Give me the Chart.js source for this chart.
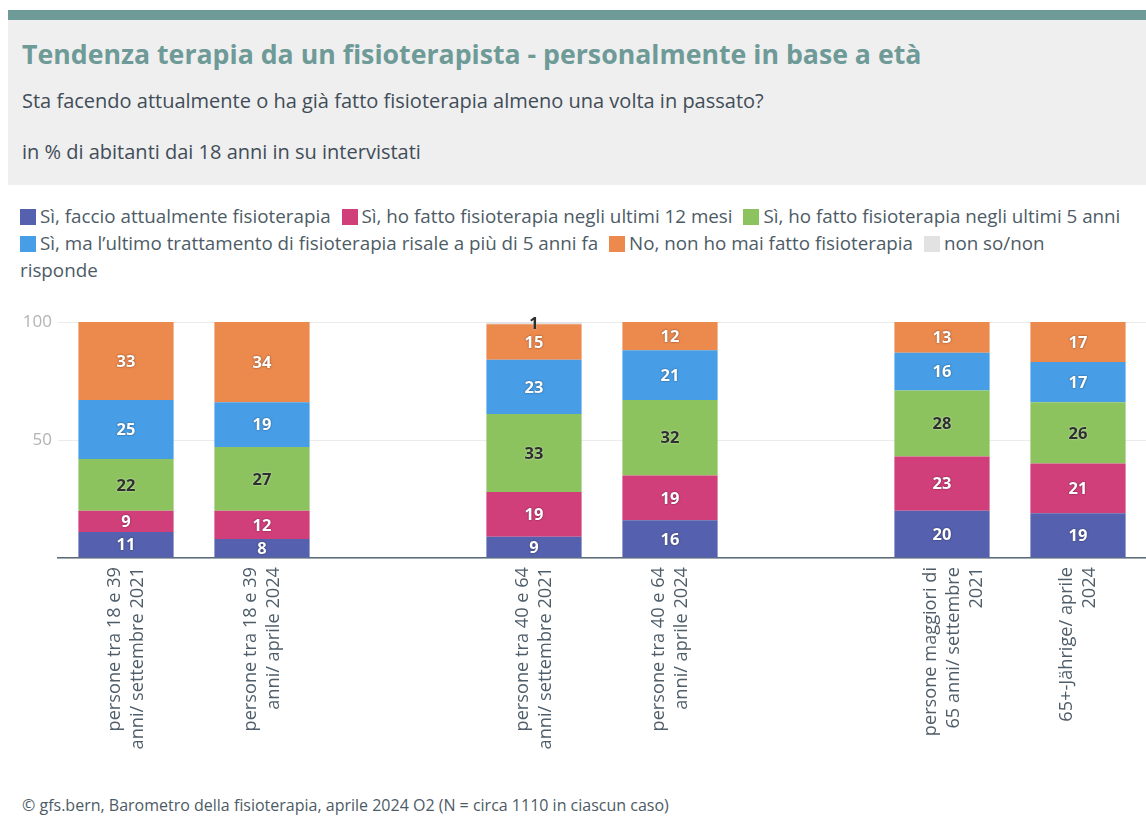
<!DOCTYPE html>
<html lang="it">
<head>
<meta charset="UTF-8">
<title>Tendenza terapia da un fisioterapista</title>
<script src="https://cdn.jsdelivr.net/npm/chart.js@4.4.1/dist/chart.umd.min.js"></script>
<style>
  body { margin: 0; background: #fff; font-family: "Open Sans", Roboto, sans-serif; width: 1146px; height: 829px; overflow: hidden; position: relative; }
  .header { position: absolute; left: 8px; top: 10px; width: 1138px; height: 175px; background: #efefef; border-top: 10px solid #6e9a97; box-sizing: border-box; }
  .header h1 { position: absolute; left: 14px; top: 19px; margin: 0; font-size: 26.7px; line-height: 30px; font-weight: 700; color: #6e9a97; white-space: nowrap; }
  .header p { position: absolute; left: 14px; margin: 0; font-size: 20px; line-height: 24px; color: #3f4d58; white-space: nowrap; }
  /* lo spazio tra le voci sparisce a fine riga */
  #legend { position: absolute; left: 20px; top: 203px; width: 1103px; font-size: 18.8px; line-height: 27px; color: #4d5b66; word-spacing: 6px; }
  #legend .item { white-space: nowrap; word-spacing: normal; }
  #legend .item:last-child { white-space: normal; }
  #legend .box { display: inline-block; width: 16px; height: 16px; margin-right: 4px; vertical-align: -2px; }
  .chart-wrap { position: absolute; left: 0; top: 300px; width: 1146px; height: 480px; }
  .foot { position: absolute; left: 22px; top: 796px; margin: 0; font-size: 16px; line-height: 18px; color: #4d5b66; white-space: nowrap; }
</style>
</head>
<body>
  <div class="header">
    <h1>Tendenza terapia da un fisioterapista - personalmente in base a età</h1>
    <p style="top:69px">Sta facendo attualmente o ha già fatto fisioterapia almeno una volta in passato?</p>
    <p style="top:120px">in % di abitanti dai 18 anni in su intervistati</p>
  </div>
  <div id="legend"></div>
  <div class="chart-wrap"><canvas id="chart" width="1146" height="480"></canvas></div>
  <p class="foot">© gfs.bern, Barometro della fisioterapia, aprile 2024 O2 (N = circa 1110 in ciascun caso)</p>

<script>
// categorie (le voci vuote fanno da spazio tra i gruppi di età)
const categories = [
  ["persone tra 18 e 39", "anni/ settembre 2021"],
  ["persone tra 18 e 39", "anni/ aprile 2024"],
  "",
  ["persone tra 40 e 64", "anni/ settembre 2021"],
  ["persone tra 40 e 64", "anni/ aprile 2024"],
  "",
  ["persone maggiori di", "65 anni/ settembre", "2021"],
  ["65+-Jährige/ aprile", "2024"]
];

const seriesNames = [
  "Sì, faccio attualmente fisioterapia",
  "Sì, ho fatto fisioterapia negli ultimi 12 mesi",
  "Sì, ho fatto fisioterapia negli ultimi 5 anni",
  "Sì, ma l’ultimo trattamento di fisioterapia risale a più di 5 anni fa",
  "No, non ho mai fatto fisioterapia",
  "non so/non risponde"
];

const attualmente  = [11, 8, null, 9, 16, null, 20, 19];
const ultimi12Mesi = [9, 12, null, 19, 19, null, 23, 21];
const ultimi5Anni  = [22, 27, null, 33, 32, null, 28, 26];
const oltre5Anni   = [25, 19, null, 23, 21, null, 16, 17];
const maiFatto     = [33, 34, null, 15, 12, null, 13, 17];
const nonSo        = [0, 0, null, 1, 0, null, 0, 0];

const yTicks = [0, 50, 100];

const colors = ['#5561ae', '#d13f7b', '#8cc35f', '#479ee6', '#ec894d', '#e2e2e2'];
const darkLabel = [false, false, true, false, false, true];

const allSeries = [attualmente, ultimi12Mesi, ultimi5Anni, oltre5Anni, maiFatto, nonSo];

// etichette dentro le barre
const barLabels = {
  id: 'barLabels',
  afterDatasetsDraw(chart) {
    const ctx = chart.ctx;
    ctx.save();
    ctx.font = 'bold 16.5px "Open Sans", sans-serif';
    ctx.textAlign = 'center';
    ctx.textBaseline = 'middle';
    chart.data.datasets.forEach((ds, di) => {
      const meta = chart.getDatasetMeta(di);
      meta.data.forEach((bar, i) => {
        const v = ds.data[i];
        if (!v) return;
        const y = (bar.y + bar.base) / 2;
        if (darkLabel[di]) {
          ctx.fillStyle = '#2f2f2f';
          ctx.shadowColor = 'rgba(255,255,255,0.7)';
        } else {
          ctx.fillStyle = '#ffffff';
          ctx.shadowColor = 'rgba(0,0,0,0.55)';
        }
        ctx.shadowBlur = 2;
        ctx.fillText(v, bar.x, y + 1);
      });
    });
    ctx.restore();
  }
};

const chart = new Chart(document.getElementById('chart'), {
  type: 'bar',
  data: {
    labels: categories,
    datasets: allSeries.map((d, i) => ({
      label: seriesNames[i],
      data: d,
      backgroundColor: colors[i],
      borderWidth: 0,
      barPercentage: 0.7,
      categoryPercentage: 1
    }))
  },
  options: {
    responsive: false,
    animation: false,
    layout: { padding: { top: 22, left: 0, right: 0, bottom: 0 } },
    plugins: {
      legend: { display: false },
      tooltip: { enabled: false }
    },
    scales: {
      x: {
        stacked: true,
        grid: { display: false, drawTicks: false },
        border: { color: '#5b6c7a', width: 1.5 },
        ticks: {
          autoSkip: false,
          minRotation: 90,
          maxRotation: 90,
          padding: 9,
          labelOffset: -11.5,
          color: '#4f5d69',
          font: { family: '"Open Sans", sans-serif', size: 18.2, lineHeight: 1.26 }
        },
        afterFit(scale) { scale.height = 222; }
      },
      y: {
        stacked: true,
        min: 0,
        max: 100,
        afterBuildTicks(scale) { scale.ticks = yTicks.map(v => ({ value: v })); },
        ticks: {
          color: '#b3b3b3',
          padding: 6,
          font: { family: '"Open Sans", sans-serif', size: 17 },
          callback: v => v === 0 ? '' : v
        },
        grid: { color: '#ebebeb', drawTicks: false },
        border: { display: false },
        afterFit(scale) { scale.width = 58; }
      }
    }
  },
  plugins: [barLabels]
});

// legenda HTML (va a capo come nell'originale)
document.getElementById('legend').innerHTML = chart.data.datasets.map(ds =>
  `<span class="item"><span class="box" style="background:${ds.backgroundColor}"></span>${ds.label}</span>`
).join(' ');
</script>
</body>
</html>
